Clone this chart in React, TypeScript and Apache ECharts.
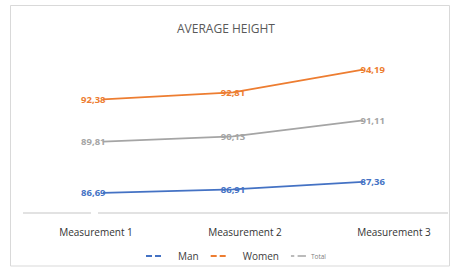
import React, { useEffect, useRef } from "react";
import * as echarts from "echarts";

const categories = ["Measurement 1", "Measurement 2", "Measurement 3"];
const manValues = [86.69, 86.91, 87.36];
const womenValues = [92.38, 92.81, 94.19];
const totalValues = [89.81, 90.13, 91.11];
const seriesNames = ["Man", "Women", "Total"];
const colors = ["#4472C4", "#ED7D31", "#A5A5A5"];

const FONT = "'Open Sans', 'Noto Sans', sans-serif";
const dashIcon = "path://M0,0h6v2h-6z M9,0h6v2h-6z";
const dashIconTotal = "path://M0,0h4v2h-4z M8,0h10v2h-10z";

function makeSeries(name: string, values: number[], color: string) {
  return {
    name,
    type: "line",
    xAxisIndex: 0,
    yAxisIndex: 0,
    data: values.map((v, i) => ({
      value: v,
      label:
        i === 0
          ? { position: "left", distance: -3 }
          : i === values.length - 1
          ? { position: "right", distance: -3 }
          : { position: "inside" },
    })),
    symbol: "circle",
    symbolSize: 1,
    itemStyle: { color },
    lineStyle: { color, width: 1.75 },
    label: {
      show: true,
      color,
      fontSize: 9.5,
      fontWeight: "bold",
      fontFamily: FONT,
      formatter: (p: any) => Number(p.value).toFixed(2).replace(".", ","),
    },
    z: 3,
  };
}

export default function App() {
  const ref = useRef<HTMLDivElement>(null);
  useEffect(() => {
    document.body.style.margin = "0";
    const chart = echarts.init(ref.current!, null, { renderer: "svg" });
    chart.setOption({
      animation: false,
      backgroundColor: "#ffffff",
      title: {
        text: "AVERAGE HEIGHT",
        left: "center",
        top: 17,
        textStyle: { fontSize: 12, fontWeight: "normal", color: "#595959", fontFamily: FONT },
      },
      grid: [
        { left: 38, right: 24, top: 40, bottom: 55.5 },
        { left: 96, right: 58, top: 40, bottom: 55.5 },
      ],
      xAxis: [
        {
          type: "category",
          gridIndex: 0,
          data: categories,
          boundaryGap: true,
          axisLine: { show: false },
          axisTick: { show: false },
          axisLabel: { show: false },
        },
        {
          type: "category",
          gridIndex: 1,
          data: categories,
          boundaryGap: false,
          axisLine: { show: false },
          axisTick: { show: false },
          axisLabel: { margin: 14, fontSize: 10, color: "#333333", fontFamily: FONT },
        },
      ],
      yAxis: [
        { type: "value", gridIndex: 0, min: 85.5, max: 96, show: false, splitLine: { show: false } },
        { type: "value", gridIndex: 1, min: 85.5, max: 96, show: false, splitLine: { show: false } },
      ],
      legend: {
        left: 141,
        top: 246,
        itemGap: 12,
        itemWidth: 15,
        itemHeight: 2,
        textStyle: { fontFamily: FONT, color: "#404040", fontSize: 10 },
        data: [
          { name: seriesNames[0], icon: dashIcon, textStyle: { padding: [0, 0, 0, 12], fontSize: 10 } },
          { name: seriesNames[1], icon: dashIcon, textStyle: { padding: [0, 0, 0, 12], fontSize: 10 } },
          { name: seriesNames[2], icon: dashIconTotal, textStyle: { fontSize: 6.5, color: "#808080" } },
        ],
      },
      graphic: [
        {
          type: "rect",
          shape: { x: 10.5, y: 5.5, width: 439, height: 260.5 },
          style: { fill: "none", stroke: "#d9d9d9", lineWidth: 1 },
          silent: true,
        },
        {
          type: "line",
          shape: { x1: 23, y1: 213, x2: 91, y2: 213 },
          style: { stroke: "#d9d9d9", lineWidth: 1.5 },
          silent: true,
        },
        {
          type: "line",
          shape: { x1: 98, y1: 213, x2: 448, y2: 213 },
          style: { stroke: "#d9d9d9", lineWidth: 1.5 },
          silent: true,
        },
      ],
      series: [
        makeSeries(seriesNames[0], manValues, colors[0]),
        makeSeries(seriesNames[1], womenValues, colors[1]),
        makeSeries(seriesNames[2], totalValues, colors[2]),
      ],
    });
    return () => chart.dispose();
  }, []);
  return <div ref={ref} style={{ width: 452, height: 268 }} />;
}
